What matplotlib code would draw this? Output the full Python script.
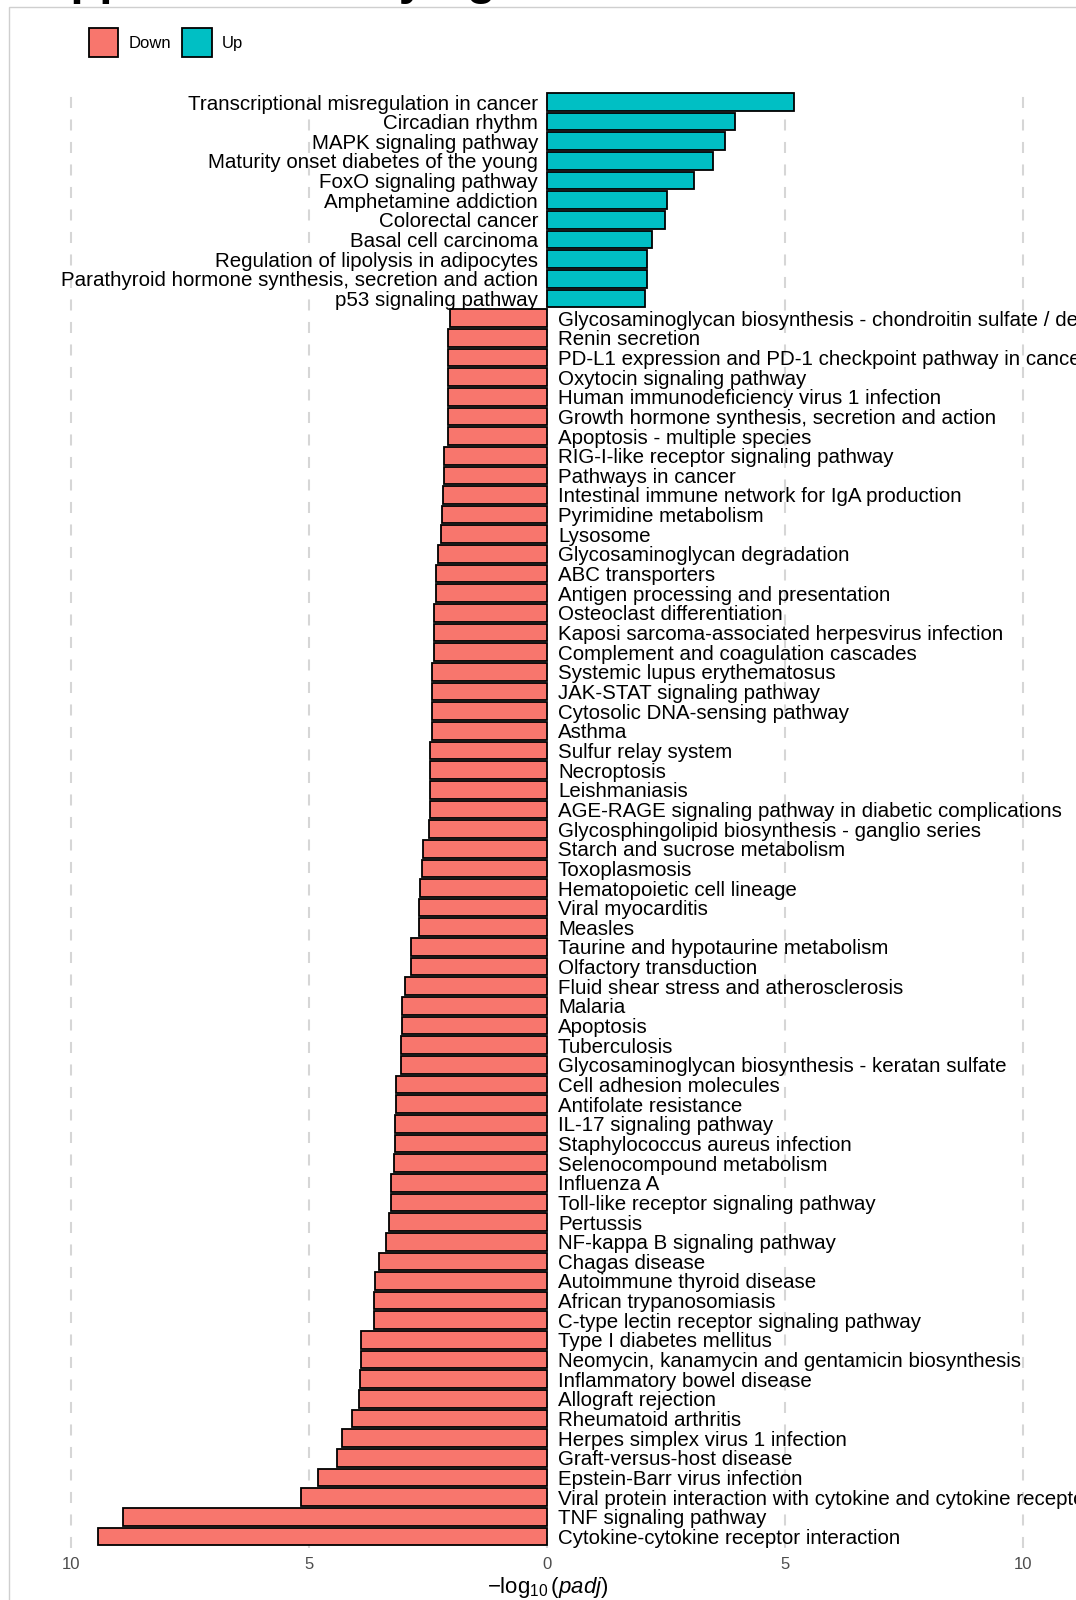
import matplotlib
matplotlib.use("Agg")
import matplotlib.pyplot as plt
from matplotlib.patches import Patch, Rectangle

plt.rcParams['font.family'] = ['Liberation Sans', 'DejaVu Sans']
plt.rcParams['mathtext.fontset'] = 'custom'
plt.rcParams['mathtext.rm'] = 'Liberation Sans'
plt.rcParams['mathtext.it'] = 'Liberation Sans:italic'

up_terms = [
    "Transcriptional misregulation in cancer",
    "Circadian rhythm",
    "MAPK signaling pathway",
    "Maturity onset diabetes of the young",
    "FoxO signaling pathway",
    "Amphetamine addiction",
    "Colorectal cancer",
    "Basal cell carcinoma",
    "Regulation of lipolysis in adipocytes",
    "Parathyroid hormone synthesis, secretion and action",
    "p53 signaling pathway",
]
up_values = [5.19, 3.95, 3.74, 3.49, 3.09, 2.52, 2.47, 2.21, 2.09, 2.09, 2.06]

down_terms = [
    "Glycosaminoglycan biosynthesis - chondroitin sulfate / dermatan sulfate",
    "Renin secretion",
    "PD-L1 expression and PD-1 checkpoint pathway in cancer",
    "Oxytocin signaling pathway",
    "Human immunodeficiency virus 1 infection",
    "Growth hormone synthesis, secretion and action",
    "Apoptosis - multiple species",
    "RIG-I-like receptor signaling pathway",
    "Pathways in cancer",
    "Intestinal immune network for IgA production",
    "Pyrimidine metabolism",
    "Lysosome",
    "Glycosaminoglycan degradation",
    "ABC transporters",
    "Antigen processing and presentation",
    "Osteoclast differentiation",
    "Kaposi sarcoma-associated herpesvirus infection",
    "Complement and coagulation cascades",
    "Systemic lupus erythematosus",
    "JAK-STAT signaling pathway",
    "Cytosolic DNA-sensing pathway",
    "Asthma",
    "Sulfur relay system",
    "Necroptosis",
    "Leishmaniasis",
    "AGE-RAGE signaling pathway in diabetic complications",
    "Glycosphingolipid biosynthesis - ganglio series",
    "Starch and sucrose metabolism",
    "Toxoplasmosis",
    "Hematopoietic cell lineage",
    "Viral myocarditis",
    "Measles",
    "Taurine and hypotaurine metabolism",
    "Olfactory transduction",
    "Fluid shear stress and atherosclerosis",
    "Malaria",
    "Apoptosis",
    "Tuberculosis",
    "Glycosaminoglycan biosynthesis - keratan sulfate",
    "Cell adhesion molecules",
    "Antifolate resistance",
    "IL-17 signaling pathway",
    "Staphylococcus aureus infection",
    "Selenocompound metabolism",
    "Influenza A",
    "Toll-like receptor signaling pathway",
    "Pertussis",
    "NF-kappa B signaling pathway",
    "Chagas disease",
    "Autoimmune thyroid disease",
    "African trypanosomiasis",
    "C-type lectin receptor signaling pathway",
    "Type I diabetes mellitus",
    "Neomycin, kanamycin and gentamicin biosynthesis",
    "Inflammatory bowel disease",
    "Allograft rejection",
    "Rheumatoid arthritis",
    "Herpes simplex virus 1 infection",
    "Graft-versus-host disease",
    "Epstein-Barr virus infection",
    "Viral protein interaction with cytokine and cytokine receptor",
    "TNF signaling pathway",
    "Cytokine-cytokine receptor interaction",
]
down_values = [
    2.04, 2.09, 2.09, 2.09, 2.09, 2.09, 2.09, 2.16, 2.16, 2.19,
    2.21, 2.23, 2.30, 2.33, 2.33, 2.39, 2.39, 2.39, 2.43, 2.43,
    2.43, 2.43, 2.46, 2.46, 2.46, 2.47, 2.49, 2.61, 2.63, 2.67,
    2.69, 2.69, 2.87, 2.87, 2.98, 3.05, 3.05, 3.07, 3.07, 3.17,
    3.18, 3.20, 3.21, 3.23, 3.28, 3.29, 3.33, 3.38, 3.54, 3.63,
    3.64, 3.65, 3.91, 3.91, 3.94, 3.96, 4.11, 4.32, 4.41, 4.81,
    5.17, 8.92, 9.44,
]

x_ticks = [-10, -5, 0, 5, 10]
x_ticklabels = ["10", "5", "0", "5", "10"]
groups = ["Down", "Up"]
colors = {"Down": "#F8766D", "Up": "#00BFC4"}

W, H = 1076, 1600
fig = plt.figure(figsize=(W / 100, H / 100), dpi=100)

# panel border (runs off the right and bottom edges)
fig.patches.append(Rectangle((9 / W, -0.05), 1.2, 1 - 7 / H + 0.05,
                             transform=fig.transFigure, fill=False,
                             edgecolor="#CFCFCF", lw=1.0, zorder=0))

fig.text(5 / W, 1 + 6 / H, "Mapped to underlying", fontsize=34,
         fontweight="bold", ha="left", va="baseline")

n = len(up_terms) + len(down_terms)
row_px = 19.65
top_px = 102 - 0.6 * row_px
bot_px = 102 + (n - 1) * row_px + 0.6 * row_px
ax = fig.add_axes([0, 1 - bot_px / H, 1, (bot_px - top_px) / H])

zero_px, unit_px = 547.25, 47.575
ax.set_xlim(-zero_px / unit_px, (W - zero_px) / unit_px)
ax.set_ylim(-(n - 1) - 0.6, 0.6)

terms = up_terms + down_terms
values = up_values + [-v for v in down_values]
ys = [-i for i in range(n)]
bar_colors = [colors["Up"]] * len(up_terms) + [colors["Down"]] * len(down_terms)

ax.barh(ys, values, height=0.9, color=bar_colors, edgecolor="black",
        linewidth=1.3, zorder=2)

for y, term, v in zip(ys, terms, values):
    if v > 0:
        ax.annotate(term, (0, y), xytext=(-6.5, 0), textcoords="offset points",
                    ha="right", va="center_baseline", fontsize=14.8, zorder=3)
    else:
        ax.annotate(term, (0, y), xytext=(7.7, 0), textcoords="offset points",
                    ha="left", va="center_baseline", fontsize=14.8, zorder=3)

ax.set_xticks(x_ticks)
ax.set_xticklabels(x_ticklabels, color="#4D4D4D", fontsize=12)
ax.set_yticks([])
ax.tick_params(axis="x", length=0, pad=6)
ax.grid(axis="x", color="#D6D6D6", linestyle=(0, (5.3, 5.5)), lw=1.5)
ax.set_axisbelow(True)
for s in ax.spines.values():
    s.set_visible(False)
ax.patch.set_alpha(0)

fig.text(zero_px / W, 1 - 1588 / H, r"$-\log_{10}(\mathit{padj})$",
         fontsize=16, ha="center", va="center")

handles = [Patch(facecolor=colors[g], edgecolor="black", lw=1.3) for g in groups]
fig.legend(handles, groups, loc="upper left",
           bbox_to_anchor=(89 / W, 1 - 28 / H), ncol=2, frameon=False,
           fontsize=12, handlelength=1.75, handleheight=2.3,
           handletextpad=0.6, columnspacing=0.7, borderpad=0,
           borderaxespad=0)

fig.savefig("out.png", dpi=100)
